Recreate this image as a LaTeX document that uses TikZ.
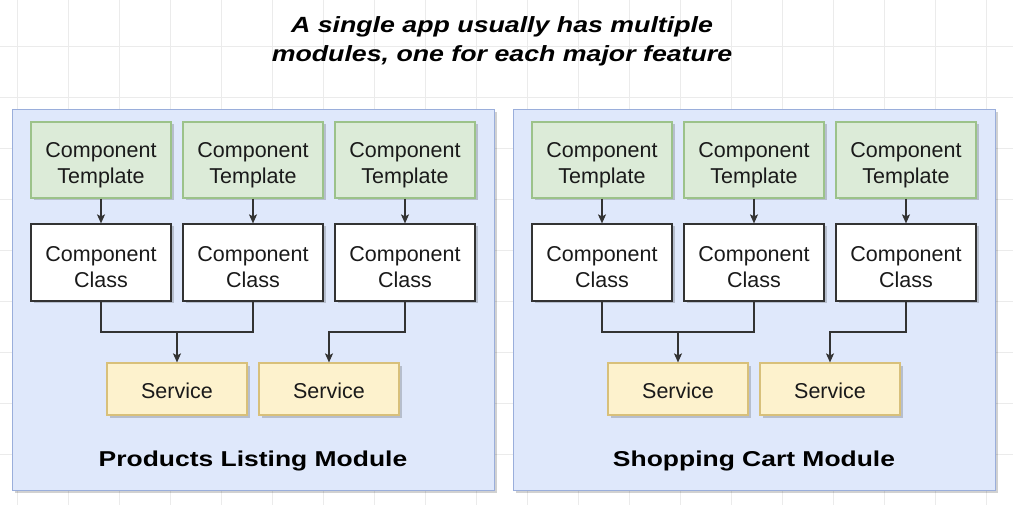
\documentclass[tikz,border=0pt]{standalone}
\usepackage{fontspec}
\usepackage{graphicx}
\setmainfont{Liberation Sans}
\usetikzlibrary{arrows.meta,shadows}
\definecolor{modfill}{HTML}{DFE8FB}
\definecolor{modline}{HTML}{9AAEDB}
\definecolor{tplfill}{HTML}{DCEBD8}
\definecolor{tplline}{HTML}{9CC28A}
\definecolor{srvfill}{HTML}{FDF2CD}
\definecolor{srvline}{HTML}{D8C07A}
\definecolor{clsline}{HTML}{333333}
\definecolor{gridc}{HTML}{EBEBEB}
\definecolor{txt}{HTML}{1A1A1A}
\newcommand{\wideb}[2]{\scalebox{#1}[1]{#2}}
\newcommand{\tstrut}{\rule{0pt}{24.5pt}}
\newcommand{\sstrut}{\rule{0pt}{19.5pt}}
\begin{document}
\begin{tikzpicture}[x=1pt,y=-1pt,
  boxfont/.style={font=\fontsize{21.5}{26}\selectfont, text=txt},
  shade box/.style={drop shadow={shadow xshift=2.5pt, shadow yshift=-2.5pt, opacity=0.18, fill=black}},
  modbox/.style={draw=modline, fill=modfill, line width=1pt, shade box},
  tplbox/.style={boxfont, draw=tplline, fill=tplfill, line width=1.2pt, minimum width=140pt, minimum height=76pt, inner sep=0pt, align=center, shade box},
  clsbox/.style={boxfont, draw=clsline, fill=white, line width=1.2pt, minimum width=140pt, minimum height=77pt, inner sep=0pt, align=center, shade box},
  srvbox/.style={boxfont, draw=srvline, fill=srvfill, line width=1.2pt, minimum width=140pt, minimum height=52pt, inner sep=0pt, align=center, shade box},
  conn/.style={draw=clsline, line width=1.2pt},
  arr/.style={conn, -{Stealth[length=9pt,width=8pt,inset=2pt]}},
  titlefont/.style={font=\fontsize{22}{29}\bfseries\itshape\selectfont, text=black},
  modlabel/.style={font=\fontsize{21.5}{26}\bfseries\selectfont, text=black}
]
\useasboundingbox (0,0) rectangle (1013,505);
\fill[white] (0,0) rectangle (1013,505);
% faint grid
\foreach \gx in {17,68,...,1013} { \draw[gridc, line width=0.7pt] (\gx,0) -- (\gx,505); }
\foreach \gy in {46,97,...,505} { \draw[gridc, line width=0.7pt] (0,\gy) -- (1013,\gy); }

% title
\node[titlefont, anchor=base] (title1) at (502,33) {\wideb{1.215}{A single app usually has multiple}};
\node[titlefont, anchor=base] (title2) at (502,62) {\wideb{1.215}{modules, one for each major feature}};

\foreach \ox/\m/\lab in {0/a/{Products Listing Module}, 501/b/{Shopping Cart Module}} {
  \node[modbox, minimum width=482pt, minimum height=380pt, inner sep=0pt] (mod\m) at (253+\ox,300) {};
  \node[tplbox] (t1\m) at (101+\ox,160) {\tstrut Component\\Template};
  \node[tplbox] (t2\m) at (253+\ox,160) {\tstrut Component\\Template};
  \node[tplbox] (t3\m) at (405+\ox,160) {\tstrut Component\\Template};
  \node[clsbox] (c1\m) at (101+\ox,262.5) {\tstrut Component\\Class};
  \node[clsbox] (c2\m) at (253+\ox,262.5) {\tstrut Component\\Class};
  \node[clsbox] (c3\m) at (405+\ox,262.5) {\tstrut Component\\Class};
  \node[srvbox] (s1\m) at (177+\ox,389) {\sstrut Service};
  \node[srvbox] (s2\m) at (329+\ox,389) {\sstrut Service};
  \node[modlabel, anchor=base] (lab\m) at (253+\ox,466) {\wideb{1.23}{\lab}};
  \coordinate (j1\m) at (177+\ox,332);
  \coordinate (j2\m) at (329+\ox,332);
  \draw[arr] (t1\m) -- (c1\m);
  \draw[arr] (t2\m) -- (c2\m);
  \draw[arr] (t3\m) -- (c3\m);
  \draw[conn] (c1\m.south) |- (j1\m) -| (c2\m.south);
  \draw[arr] (j1\m) -- (s1\m.north);
  \draw[arr] (c3\m.south) |- (j2\m) -- (s2\m.north);
}
\end{tikzpicture}
\end{document}
